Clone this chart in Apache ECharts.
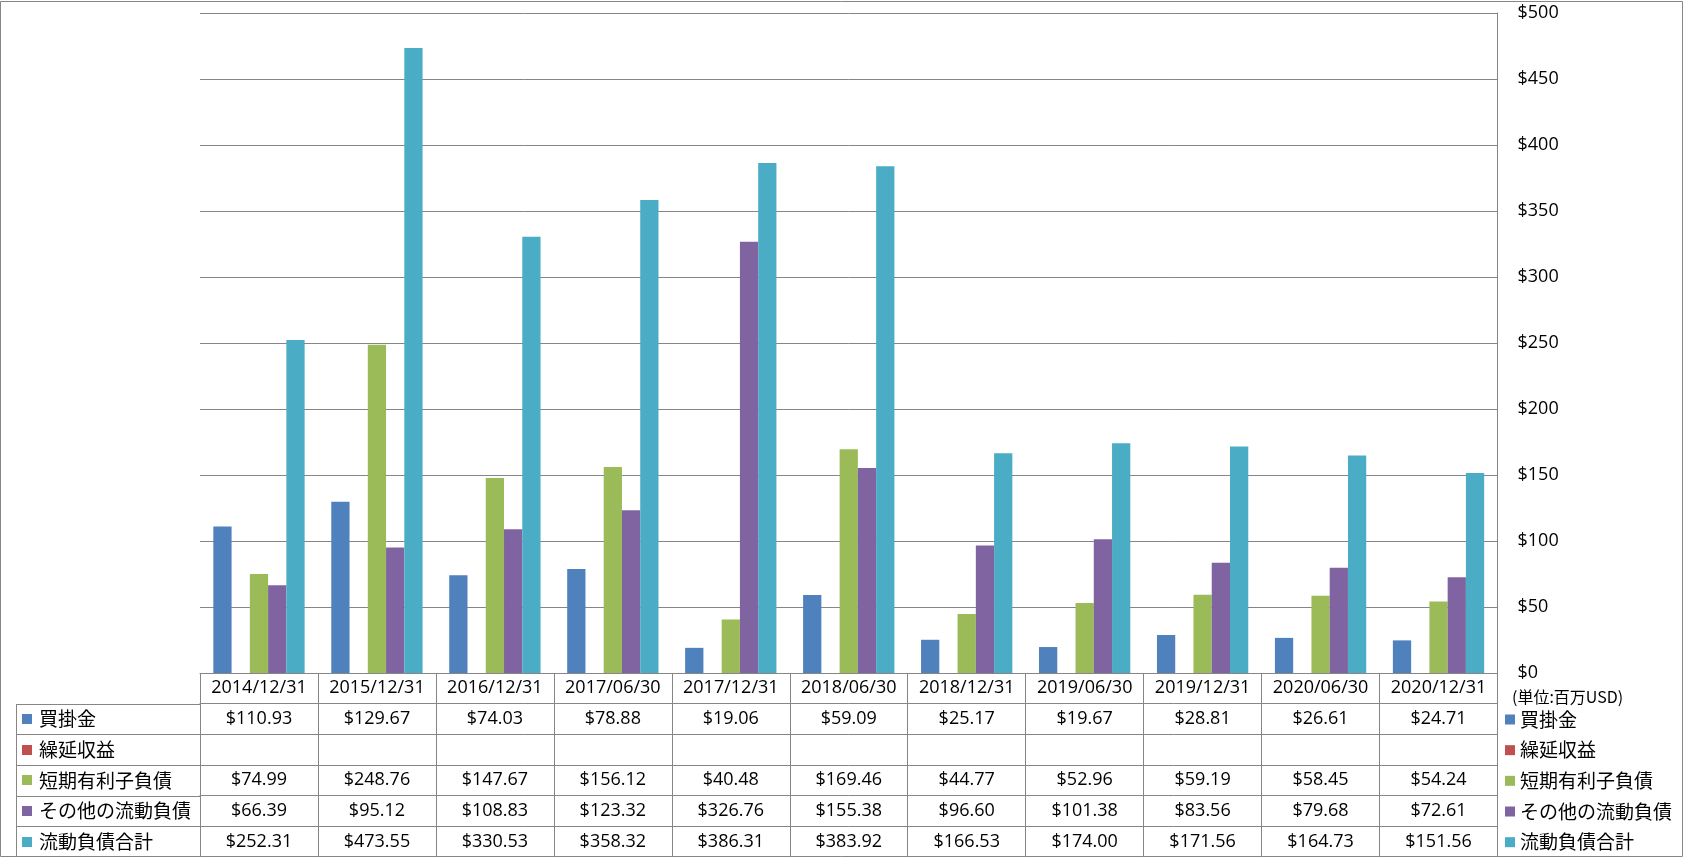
<!DOCTYPE html>
<html>
<head>
<meta charset="utf-8">
<script src="https://cdn.jsdelivr.net/npm/echarts@6/dist/echarts.min.js"></script>
<style>
html,body{margin:0;padding:0;background:#fff;}
#c{width:1685px;height:858px;}
</style>
</head>
<body>
<div id="c"></div>
<script>
const categories = ['2014/12/31','2015/12/31','2016/12/31','2017/06/30','2017/12/31','2018/06/30','2018/12/31','2019/06/30','2019/12/31','2020/06/30','2020/12/31'];
const seriesNames = ['買掛金','繰延収益','短期有利子負債','その他の流動負債','流動負債合計'];
const seriesColors = ['#4F81BD','#C0504D','#9BBB59','#8064A2','#4BACC6'];
const accountsPayable = [110.93,129.67,74.03,78.88,19.06,59.09,25.17,19.67,28.81,26.61,24.71];
const deferredRevenue = [null,null,null,null,null,null,null,null,null,null,null];
const shortTermDebt = [74.99,248.76,147.67,156.12,40.48,169.46,44.77,52.96,59.19,58.45,54.24];
const otherCurrentLiab = [66.39,95.12,108.83,123.32,326.76,155.38,96.60,101.38,83.56,79.68,72.61];
const totalCurrentLiab = [252.31,473.55,330.53,358.32,386.31,383.92,166.53,174.00,171.56,164.73,151.56];
const yTicks = {min:0, max:500, interval:50};
const unitLabel = '(単位:百万USD)';

const seriesData = [accountsPayable, deferredRevenue, shortTermDebt, otherCurrentLiab, totalCurrentLiab];

const GRID_L = 200, GRID_T = 13, GRID_W = 1297.5, GRID_H = 660;
const ROW_H = 30.67;
const GRAY = '#868686';
const LATIN = "'Open Sans','Noto Sans CJK JP',sans-serif";
const JP = "'Noto Sans CJK JP',sans-serif";
const NUM_SIZE = 18;

const chart = echarts.init(document.getElementById('c'), null, {renderer:'canvas'});

const fmt = v => (v === null || v === undefined) ? '' : '$' + v.toFixed(2);

const xAxes = [{
  type:'category', data:categories, gridIndex:0, position:'bottom',
  axisLine:{show:true, lineStyle:{color:GRAY, width:1}},
  axisTick:{show:true, length:ROW_H, lineStyle:{color:GRAY}, alignWithLabel:false},
  axisLabel:{interval:0, color:'#000', fontSize:NUM_SIZE, fontFamily:LATIN, margin:ROW_H/2, verticalAlign:'middle'},
  splitLine:{show:false}
}];
seriesData.forEach((arr, k) => {
  xAxes.push({
    type:'category', data:arr.map(fmt), gridIndex:0, position:'bottom', offset:ROW_H*(k+1),
    axisLine:{show:true, lineStyle:{color:GRAY, width:1}},
    axisTick:{show:true, length:ROW_H, lineStyle:{color:GRAY}, alignWithLabel:false},
    axisLabel:{interval:0, color:'#000', fontSize:NUM_SIZE, fontFamily:LATIN, margin:ROW_H/2, verticalAlign:'middle'},
    splitLine:{show:false}
  });
});

const graphics = [];
// outer border
graphics.push({type:'rect', shape:{x:0.5, y:1.5, width:1682, height:855}, style:{fill:null, stroke:GRAY, lineWidth:1}, silent:true, z:0});
const axisY = GRID_T + GRID_H;
// left column lines
for (let k = 1; k <= 5; k++) {
  const y = Math.round(axisY + ROW_H*k) + 0.5;
  graphics.push({type:'line', shape:{x1:16, y1:y, x2:GRID_L, y2:y}, style:{stroke:GRAY, lineWidth:1}, silent:true});
}
graphics.push({type:'line', shape:{x1:16.5, y1:Math.round(axisY+ROW_H)+0.5, x2:16.5, y2:857}, style:{stroke:GRAY, lineWidth:1}, silent:true});
// left column series names with markers
seriesNames.forEach((name, k) => {
  const cy = axisY + ROW_H*(k+1) + ROW_H/2;
  graphics.push({type:'rect', shape:{x:22, y:Math.round(cy-5), width:10, height:10}, style:{fill:seriesColors[k]}, silent:true});
  graphics.push({type:'text', x:39, y:cy, style:{text:name, fill:'#000', font:'19px ' + JP, textVerticalAlign:'middle', verticalAlign:'middle'}, silent:true});
});
// unit label
graphics.push({type:'text', x:1512, y:697, style:{text:unitLabel, fill:'#000', font:'16px ' + JP, verticalAlign:'middle', textVerticalAlign:'middle'}, silent:true});

const option = {
  animation:false,
  backgroundColor:'#fff',
  grid:{left:GRID_L, top:GRID_T, width:GRID_W, height:GRID_H, containLabel:false},
  legend:{
    show:true, orient:'vertical', left:1505, top:709.5, padding:0,
    icon:'rect', itemWidth:10, itemHeight:10, itemGap:10.67,
    textStyle:{fontSize:19, fontFamily:JP, color:'#000', lineHeight:20},
    data:seriesNames, selectedMode:false
  },
  xAxis:xAxes,
  yAxis:{
    type:'value', position:'right', min:yTicks.min, max:yTicks.max, interval:yTicks.interval,
    axisLine:{show:true, lineStyle:{color:GRAY, width:1}},
    axisTick:{show:false},
    axisLabel:{color:'#000', fontSize:NUM_SIZE, fontFamily:LATIN, margin:20, formatter:v => '$' + v},
    splitLine:{show:true, lineStyle:{color:GRAY, width:1}}
  },
  series:seriesNames.map((name, k) => ({
    name:name, type:'bar', xAxisIndex:0, data:seriesData[k],
    itemStyle:{color:seriesColors[k]},
    barGap:'0%', barCategoryGap:'22.6%'
  })),
  graphic:graphics
};
chart.setOption(option);
</script>
</body>
</html>
